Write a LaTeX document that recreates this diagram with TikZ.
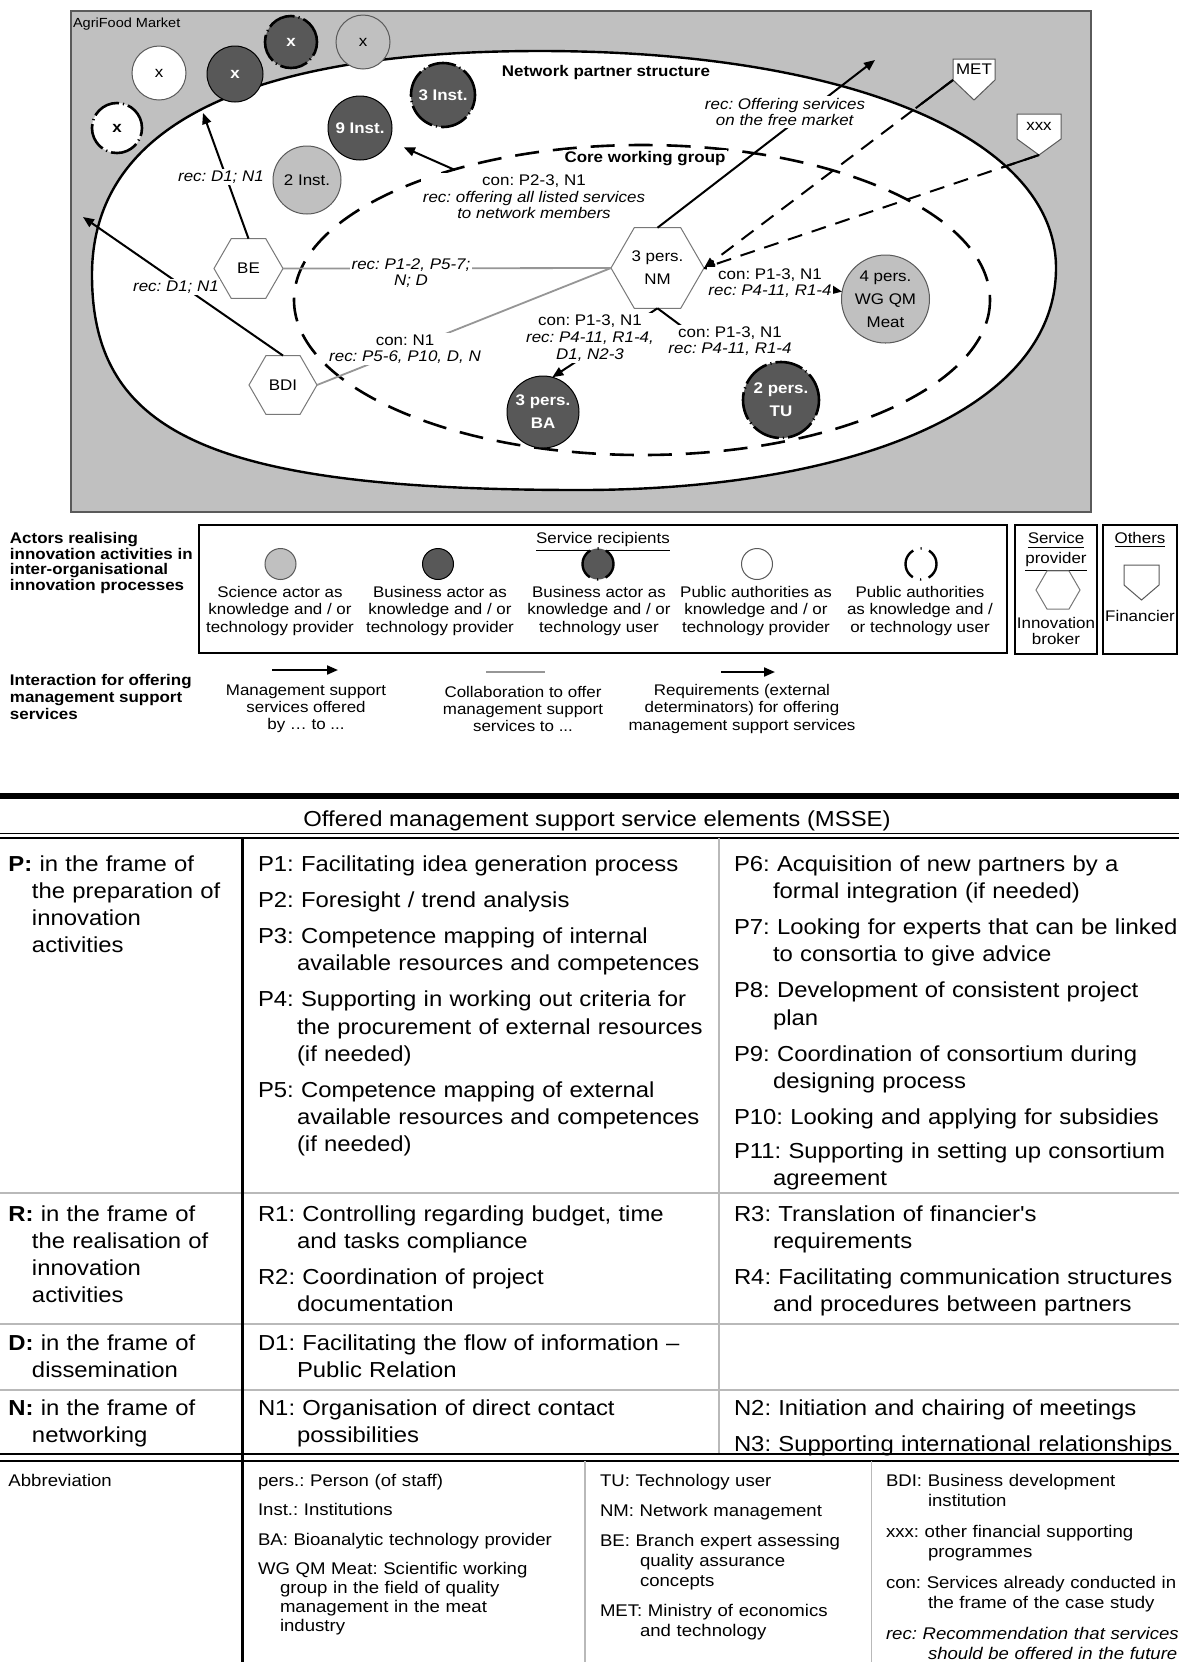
\documentclass[tikz,border=0pt]{standalone}
\usepackage{fontspec}
\setmainfont{Liberation Sans}[FakeStretch=1.1]
\usetikzlibrary{shapes.geometric,arrows.meta,calc}

\definecolor{bggray}{RGB}{192,192,192}
\definecolor{darkact}{RGB}{88,88,88}
\definecolor{edgegray}{RGB}{90,90,90}
\definecolor{hexgray}{RGB}{120,120,120}
\definecolor{colgray}{RGB}{150,150,150}
\definecolor{rulegray}{RGB}{185,185,185}

\newcommand\dlfont{\fontsize{7.7}{8.3}\selectfont}
\newcommand\ndfont{\fontsize{7.7}{11.6}\selectfont}
\newcommand\lgfont{\fontsize{7.7}{8.6}\selectfont}
\newcommand\lbfont{\fontsize{7.7}{7.2}\selectfont\bfseries}
\newcommand\tbfont{\fontsize{10.85}{13.6}\selectfont}
\newcommand\abfont{\fontsize{8.45}{9.4}\selectfont}
% hanging indent for every paragraph of a cell (the first one included)
\newcommand\hgind[1]{\hangindent=#1\hangafter=1\relax
  \everypar{\hangindent=#1\hangafter=1\relax}}
\newcommand\nl{\newline}
\newcommand\sq{{\addfontfeatures{Ligatures=TeXOff}'}}
\frenchspacing

\begin{document}
\begin{tikzpicture}[x=0.5pt,y=-0.5pt,
  every node/.style={inner sep=0pt,outer sep=0pt},
  dl/.style={font=\dlfont,align=center},
  lab/.style={dl,fill=white,inner sep=0.8pt},
  actor/.style={circle,inner sep=0pt,align=center,font=\ndfont},
  sci/.style={actor,fill=bggray,draw=edgegray,line width=0.5pt},
  pubp/.style={actor,fill=white,draw=edgegray,line width=0.5pt},
  bizp/.style={actor,fill=darkact,draw=black,line width=0.5pt,text=white,font=\ndfont\bfseries},
  bizu/.style={actor,fill=darkact,draw=black,line width=1.3pt,
    dash pattern=on 14pt off 2pt on 0.6pt off 2pt,text=white,font=\ndfont\bfseries},
  pubu/.style={actor,fill=white,draw=black,line width=1.3pt,
    dash pattern=on 14pt off 2pt on 0.6pt off 2pt,font=\ndfont\bfseries},
  lgdash/.style={line width=1.2pt,dash pattern=on 16pt off 3.8pt on 0.6pt off 3.8pt,dash phase=8pt},
  hexa/.style={regular polygon,regular polygon sides=6,draw=hexgray,line width=0.5pt,
    fill=white,inner sep=0pt,align=center,font=\ndfont},
  arr/.style={line width=1pt,-{Triangle[length=5.5pt,width=4.5pt]}},
  dasharr/.style={arr,dash pattern=on 7.5pt off 5pt},
  co/.style={draw=colgray,line width=0.9pt},
  tcell/.style={font=\tbfont,text width=#1,align=left,anchor=base west},
  abcell/.style={font=\abfont,text width=#1,align=left,anchor=base west},
  rulethin/.style={draw=rulegray,line width=0.8pt}
]
\useasboundingbox (0,0) rectangle (1179,1662);
\fill[white] (0,0) rectangle (1179,1662);

%% ---------------- market and network ----------------
\fill[bggray] (71,11) rectangle (1091,512);
\draw[edgegray,line width=0.6pt] (71,11) rectangle (1091,512);
\node[anchor=west,font=\fontsize{6.6}{7}\selectfont] (mkt) at (73,24) {AgriFood Market};

% network partner structure
\draw[fill=white,line width=1.2pt] (92,275)
  .. controls (92,127) and (244,51) .. (540,51)
  .. controls (850,51) and (1056,138) .. (1056,268)
  .. controls (1056,412) and (846,490) .. (580,490)
  .. controls (214,490) and (92,435) .. cycle;

% core working group
\draw[line width=1.3pt,dash pattern=on 12pt off 7pt] (642,300) ellipse [x radius=348, y radius=155];

% actors outside the network
\node[pubu,minimum size=25pt] (c1) at (117,128) {x};
\node[pubp,minimum size=27pt] (c2) at (159,73) {x};
\node[bizp,minimum size=28pt] (c3) at (235,74) {x};
\node[bizu,minimum size=26pt] (c4) at (291,42) {x};
\node[sci,minimum size=27pt] (c5) at (363,42) {x};

% network partners
\node[bizu,minimum size=32pt] (i3) at (443,95) {3 Inst.};
\node[bizp,minimum size=32pt] (i9) at (360,128) {9 Inst.};
\node[sci,minimum size=34pt] (i2) at (307,180) {2 Inst.};

\node[font=\dlfont\bfseries] (nps) at (606,73) {Network partner structure};
\node[font=\dlfont\bfseries,fill=white,inner sep=1pt] (cwg) at (645,159) {Core working group};

% brokers
\node[hexa,minimum size=34.5pt] (be) at (248.5,268.5) {BE};
\node[hexa,minimum size=34pt] (bdi) at (283,385) {BDI};
\node[hexa,minimum size=46.5pt] (nm) at (657.5,268) {3 pers.\\NM};

% core group members
\node[sci,minimum size=44pt] (wg) at (885.5,299) {4 pers.\\WG QM\\Meat};
\node[bizp,minimum size=36pt] (ba) at (543,412) {3 pers.\\BA};
\node[bizu,minimum size=38pt] (tu) at (781,400) {2 pers.\\TU};

% financiers
\filldraw[fill=white,draw=edgegray,line width=0.5pt]
  (953,59) -- (995,59) -- (995,80) -- (974,100) -- (953,80) -- cycle;
\node[font=\ndfont,minimum width=21pt,minimum height=10.5pt] (met) at (974,69.5) {MET};
\filldraw[fill=white,draw=edgegray,line width=0.5pt]
  (1017,114) -- (1061,114) -- (1061,139) -- (1039,155) -- (1017,139) -- cycle;
\node[font=\ndfont,minimum width=22pt,minimum height=12.5pt] (xxx) at (1039,126.5) {xxx};
\coordinate (xxxtip) at (1039,155);

% free ends
\coordinate (beup) at (203,113);
\coordinate (bdiup) at (83,217);
\coordinate (mktup) at (875,60);
\coordinate (cwtail) at (455,170);

% connectors
\draw[co] (be.east) -- (nm.west);
\draw[co] (bdi.east) -- (nm.west);
\draw[arr] (be.north) -- (beup);
\draw[arr] (bdi.north) -- (bdiup);
\draw[arr] (nm.north) -- (mktup);
\draw[arr,shorten >=8pt] (cwtail) -- (i9);
\draw[arr] (nm.east) -- (wg);
\draw[arr] (nm.south) -- (ba.75);
\draw[arr,shorten >=22pt] (nm.south) -- (tu);
\draw[dasharr] (met.south west) -- (nm.east);
\draw[dasharr] (xxxtip) -- (nm.east);
\draw[line width=1pt] (met.south west) -- ($(met.south west)!0.15!(nm.east)$);
\draw[line width=1pt] (xxxtip) -- ($(xxxtip)!0.11!(nm.east)$);

% connector labels
\node[lab] (lbe) at (221,177) {\textit{rec: D1; N1}};
\node[lab] (lbdi) at (176,287) {\textit{rec: D1; N1}};
\node[lab] (lmkt) at (785,112) {\textit{rec: Offering services}\\\textit{on the free market}};
\node[lab] (lnet) at (534,197) {con: P2-3, N1\\\textit{rec: offering all listed services}\\\textit{to network members}};
\node[lab] (lbenm) at (411,273) {\textit{rec: P1-2, P5-7;}\\\textit{N; D}};
\node[lab] (lbdinm) at (405,349) {con: N1\\\textit{rec: P5-6, P10, D, N}};
\node[lab] (lwg) at (770,283) {con: P1-3, N1\\\textit{rec: P4-11, R1-4}};
\node[lab] (lba) at (590,338) {con: P1-3, N1\\\textit{rec: P4-11, R1-4,}\\\textit{D1, N2-3}};
\node[lab] (ltu) at (730,341) {con: P1-3, N1\\\textit{rec: P4-11, R1-4}};

%% ---------------- legend ----------------
\node[font=\lbfont,align=left,anchor=west] (actlbl) at (10,563)
  {Actors realising\\innovation activities in\\inter-organisational\\innovation processes};
\draw[line width=0.6pt] (199,525) rectangle (1007,653);
\node[font=\lgfont] (srhd) at (603,542) {\underline{Service recipients}};

\node[sci,minimum size=15.5pt] (lg1) at (280.5,564) {};
\node[bizp,minimum size=15.5pt] (lg2) at (438,564) {};
\node[actor,fill=darkact,draw=black,lgdash,minimum size=15.5pt] (lg3) at (598,564) {};
\node[pubp,minimum size=15.5pt] (lg4) at (757,564) {};
\node[actor,fill=white,draw=black,lgdash,minimum size=15.5pt] (lg5) at (921,564) {};

\node[font=\lgfont,align=center] (lgt1) at (280,611) {Science actor as\\knowledge and / or\\technology provider};
\node[font=\lgfont,align=center] (lgt2) at (440,611) {Business actor as\\knowledge and / or\\technology provider};
\node[font=\lgfont,align=center] (lgt3) at (599,611) {Business actor as\\knowledge and / or\\technology user};
\node[font=\lgfont,align=center] (lgt4) at (756,611) {Public authorities as\\knowledge and / or\\technology provider};
\node[font=\lgfont,align=center] (lgt5) at (920,611) {Public authorities\\as knowledge and /\\or technology user};

\draw[line width=0.6pt] (1015,525) rectangle (1097,654);
\node[font=\fontsize{7.7}{10}\selectfont,align=center] (sphd) at (1056,552) {\underline{Service}\\\underline{provider}};
\node[hexa,minimum size=22pt] (lgbrk) at (1058,590) {};
\node[font=\fontsize{7.7}{8}\selectfont,align=center] (lgbrkt) at (1056,631) {Innovation\\broker};

\draw[line width=0.6pt] (1103,525) rectangle (1177,654);
\node[font=\lgfont] (othd) at (1140,540) {\underline{Others}};
\draw[draw=edgegray,line width=0.5pt] (1124,565) -- (1159,565) -- (1159,585) -- (1141.5,600) -- (1124,585) -- cycle;
\node[font=\lgfont] (lgfin) at (1140,616) {Financier};

\node[font=\fontsize{7.7}{8.6}\selectfont\bfseries,align=left,anchor=west] (intlbl) at (10,697)
  {Interaction for offering\\management support\\services};
\coordinate (la1) at (272,670); \coordinate (la2) at (338,670);
\draw[arr] (la1) -- (la2);
\coordinate (lb1) at (486,672); \coordinate (lb2) at (545,672);
\draw[co] (lb1) -- (lb2);
\coordinate (lc1) at (721,672); \coordinate (lc2) at (775,672);
\draw[arr] (lc1) -- (lc2);
\node[font=\lgfont,align=center] (lit1) at (306,709) {Management support\\services offered\\by … to ...};
\node[font=\lgfont,align=center] (lit2) at (523,709) {Collaboration to offer\\management support\\services to ...};
\node[font=\lgfont,align=center] (lit3) at (742,709) {Requirements (external\\determinators) for offering\\management support services};

%% ---------------- service element table ----------------
\draw[line width=2.6pt] (0,796) -- (1179,796);
\node[font=\tbfont,anchor=base] (msse) at (597,826) {Offered management support service elements (MSSE)};
\draw[line width=0.7pt] (0,833.5) -- (1179,833.5);
\draw[line width=0.7pt] (0,838) -- (1179,838);

\draw[rulethin] (0,1193) -- (1179,1193);
\draw[rulethin] (0,1324) -- (1179,1324);
\draw[rulethin] (0,1390) -- (1179,1390);
\draw[rulegray,line width=0.7pt] (719,838) -- (719,1454);
\draw[line width=1.2pt] (0,1454) -- (1179,1454);
\draw[line width=1.2pt] (0,1461) -- (1179,1461);
\draw[rulegray,line width=0.7pt] (585,1461) -- (585,1662);
\draw[rulegray,line width=0.7pt] (871.5,1461) -- (871.5,1662);
\draw[line width=1.5pt] (242,838) -- (242,1662);

% P row
\node[tcell=115pt] (pcat) at (8.5,871) {\hgind{11.75pt}\textbf{P:} in the frame of\nl the preparation of\nl innovation\nl activities\par};
\node[tcell=240pt] (pleft) at (258,871) {\hgind{19.5pt}\parskip=4.5pt
P1: Facilitating idea generation process\par
P2: Foresight / trend analysis\par
P3: Competence mapping of internal\nl available resources and competences\par
P4: Supporting in working out criteria for\nl the procurement of external resources\nl (if needed)\par
P5: Competence mapping of external\nl available resources and competences\nl (if needed)\par};
\node[tcell=240pt] (pright) at (734,871) {\hgind{19.5pt}\parskip=4.5pt
P6: Acquisition of new partners by a\nl formal integration (if needed)\par
P7: Looking for experts that can be linked\nl to consortia to give advice\par
P8: Development of consistent project\nl plan\par
P9: Coordination of consortium during\nl designing process\par
P10: Looking and applying for subsidies\par\vspace{-1.4pt}
P11: Supporting in setting up consortium\nl agreement\par};

% R row
\node[tcell=115pt] (rcat) at (8.5,1221) {\hgind{11.75pt}\textbf{R:} in the frame of\nl the realisation of\nl innovation\nl activities\par};
\node[tcell=240pt] (rleft) at (258,1221) {\hgind{19.5pt}\parskip=4.5pt
R1: Controlling regarding budget, time\nl and tasks compliance\par
R2: Coordination of project\nl documentation\par};
\node[tcell=240pt] (rright) at (734,1221) {\hgind{19.5pt}\parskip=4.5pt
R3: Translation of financier\sq s\nl requirements\par
R4: Facilitating communication structures\nl and procedures between partners\par};

% D row
\node[tcell=115pt] (dcat) at (8.5,1350) {\hgind{11.75pt}\textbf{D:} in the frame of\nl dissemination\par};
\node[tcell=240pt] (dleft) at (258,1350) {\hgind{19.5pt}D1: Facilitating the flow of information –\nl Public Relation\par};

% N row
\node[tcell=115pt] (ncat) at (8.5,1415) {\hgind{11.75pt}\textbf{N:} in the frame of\nl networking\par};
\node[tcell=240pt] (nleft) at (258,1415) {\hgind{19.5pt}N1: Organisation of direct contact\nl possibilities\par};
\node[tcell=240pt] (nright) at (734,1415) {\hgind{19.5pt}\parskip=4.5pt
N2: Initiation and chairing of meetings\par
N3: Supporting international relationships\par};

%% ---------------- abbreviations ----------------
\node[abcell=110pt] (abhd) at (8.5,1486) {Abbreviation};
\node[abcell=160pt] (aba) at (258,1486) {\hgind{11pt}\parskip=5.4pt
pers.: Person (of staff)\par
Inst.: Institutions\par
BA: Bioanalytic technology provider\par
WG QM Meat: Scientific working\nl group in the field of quality\nl management in the meat\nl industry\par};
\node[abcell=140pt] (abb) at (600,1486) {\fontsize{8.45}{10}\selectfont\hgind{20pt}\parskip=5pt
TU: Technology user\par
NM: Network management\par
BE: Branch expert assessing\nl quality assurance\nl concepts\par
MET: Ministry of economics\nl and technology\par};
\node[abcell=160pt] (abc) at (886,1486) {\fontsize{8.45}{10}\selectfont\hgind{21pt}\parskip=5.5pt
BDI: Business development\nl institution\par
xxx: other financial supporting\nl programmes\par
con: Services already conducted in\nl the frame of the case study\par
\textit{rec: Recommendation that services\nl should be offered in the future}\par};
\end{tikzpicture}
\end{document}
